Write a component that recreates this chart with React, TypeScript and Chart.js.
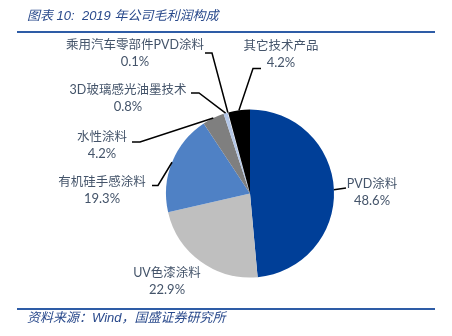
import React, { useEffect, useRef } from "react";
import { Chart, registerables } from "chart.js";

Chart.register(...registerables);

const categories = [
  "PVD涂料",
  "UV色漆涂料",
  "有机硅手感涂料",
  "水性涂料",
  "3D玻璃感光油墨技术",
  "乘用汽车零部件PVD涂料",
  "其它技术产品",
];
const values = [48.6, 22.9, 19.3, 4.2, 0.8, 0.1, 4.2];
const valueLabels = ["48.6%", "22.9%", "19.3%", "4.2%", "0.8%", "0.1%", "4.2%"];
const colors = ["#003f98", "#bfbfbf", "#4f81c5", "#7f7f7f", "#b4c7e7", "#ffffff", "#000000"];

// label layout: text centre (x, y of first line) and leader-line elbow points (from edge outward)
const labelLayout = [
  { tx: 372, ty: 184, path: [[346, 188]] },
  { tx: 167, ty: 273, path: [] },
  { tx: 102, ty: 182, path: [[158, 185.5], [152, 185.5]] },
  { tx: 102, ty: 137, path: [[140, 142], [132, 142]] },
  { tx: 128, ty: 90, path: [[199, 93], [191, 93]] },
  { tx: 135, ty: 45, path: [[212, 53], [205, 53]] },
  { tx: 281, ty: 46, path: [[253, 68.5], [261, 68.5]] },
];

const labelPlugin = {
  id: "pieLabels",
  afterDatasetsDraw(chart: any) {
    const ctx = chart.ctx;
    const meta = chart.getDatasetMeta(0);
    ctx.save();
    meta.data.forEach((arc: any, i: number) => {
      const p = arc.getProps(["x", "y", "startAngle", "endAngle", "outerRadius"], true);
      const mid = (p.startAngle + p.endAngle) / 2;
      const ex = p.x + Math.cos(mid) * p.outerRadius;
      const ey = p.y + Math.sin(mid) * p.outerRadius;
      const lay = labelLayout[i];
      if (lay.path.length) {
        ctx.beginPath();
        ctx.moveTo(ex, ey);
        lay.path.forEach((pt: number[]) => ctx.lineTo(pt[0], pt[1]));
        ctx.strokeStyle = "#000000";
        ctx.lineWidth = 1.5;
        ctx.stroke();
      }
      ctx.fillStyle = "#44546a";
      ctx.textAlign = "center";
      ctx.textBaseline = "middle";
      ctx.font = "12.5px Lato, 'Noto Sans CJK SC', sans-serif";
      ctx.fillText(categories[i], lay.tx, lay.ty);
      ctx.font = "13px Lato, 'Noto Sans CJK SC', sans-serif";
      ctx.fillText(valueLabels[i], lay.tx, lay.ty + 17);
    });
    ctx.restore();
  },
};

export default function App() {
  const ref = useRef<HTMLCanvasElement | null>(null);
  useEffect(() => {
    document.body.style.margin = "0";
    const chart = new Chart(ref.current as HTMLCanvasElement, {
      type: "pie",
      data: {
        labels: categories,
        datasets: [
          {
            data: values,
            backgroundColor: colors,
            borderWidth: 0,
          },
        ],
      },
      options: {
        animation: false,
        responsive: false,
        layout: { padding: { left: 166, right: 118, top: 109.5, bottom: 58.5 } },
        plugins: { legend: { display: false }, tooltip: { enabled: false } },
      },
      plugins: [labelPlugin],
    } as any);
    return () => chart.destroy();
  }, []);

  const blue = "#2a4a8c";
  return (
    <div style={{ position: "relative", width: 452, height: 336, background: "#fff", overflow: "hidden" }}>
      <canvas ref={ref} width={452} height={336} style={{ position: "absolute", left: 0, top: 0 }} />
      <div
        style={{
          position: "absolute",
          left: 27,
          top: 6,
          fontSize: 13,
          fontStyle: "italic",
          color: blue,
          fontFamily: "'Liberation Sans', 'Noto Sans CJK SC', sans-serif",
          whiteSpace: "pre",
          lineHeight: "20px",
        }}
      >
        {"图表 10:  2019 年公司毛利润构成"}
      </div>
      <div style={{ position: "absolute", left: 17, top: 31, width: 418, height: 2, background: "#2e5ca6" }} />
      <div style={{ position: "absolute", left: 17, top: 308, width: 418, height: 2, background: "#2e5ca6" }} />
      <div
        style={{
          position: "absolute",
          left: 27,
          top: 309,
          fontSize: 13,
          fontStyle: "italic",
          color: blue,
          fontFamily: "'Liberation Sans', 'Noto Sans CJK SC', sans-serif",
          whiteSpace: "pre",
          lineHeight: "18px",
        }}
      >
        {"资料来源：Wind，国盛证券研究所"}
      </div>
    </div>
  );
}
